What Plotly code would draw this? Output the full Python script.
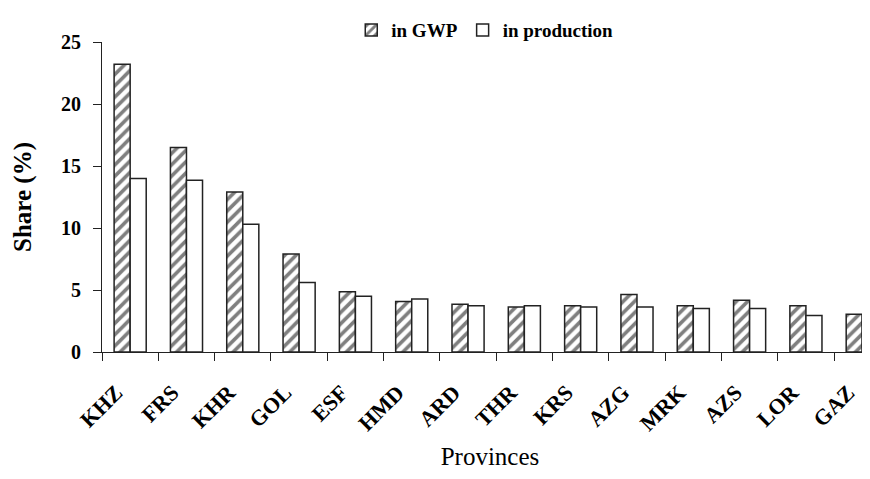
import plotly.graph_objects as go

provinces = ["KHZ", "FRS", "KHR", "GOL", "ESF", "HMD", "ARD", "THR", "KRS", "AZG", "MRK", "AZS", "LOR", "GAZ"]
share_gwp = [23.2, 16.5, 12.9, 7.9, 4.85, 4.07, 3.86, 3.62, 3.72, 4.63, 3.72, 4.18, 3.72, 3.05]
share_production = [14.0, 13.85, 10.3, 5.6, 4.5, 4.28, 3.72, 3.72, 3.62, 3.62, 3.5, 3.5, 2.95, 2.95]

FONT = "Liberation Serif"

fig = go.Figure()
fig.add_trace(go.Bar(
    x=provinces, y=share_gwp, name="in GWP",
    marker=dict(color="white",
                pattern=dict(shape="/", fgcolor="black", bgcolor="white", size=8, solidity=0.45),
                line=dict(color="#222", width=1.5)),
))
fig.add_trace(go.Bar(
    x=provinces, y=share_production, name="in production",
    marker=dict(color="white", line=dict(color="#222", width=1.5)),
))

fig.update_layout(
    width=870, height=479,
    margin=dict(l=94, r=0, t=34, b=135, autoexpand=False),
    paper_bgcolor="white", plot_bgcolor="white",
    barmode="group", bargap=0.43, bargroupgap=0,
    font=dict(family=FONT, color="black", size=18, weight="bold"),
    showlegend=True,
    legend=dict(orientation="h", xref="container", yref="container",
                x=0.548, xanchor="center", y=0.954, yanchor="middle",
                font=dict(family=FONT, size=19, weight="bold"),
                itemwidth=30, tracegroupgap=0, bgcolor="rgba(0,0,0,0)"),
    xaxis=dict(
        range=[-0.5, 13.28], tickangle=-45, tickson="boundaries",
        ticks="outside", ticklen=8, tickcolor="#222",
        showline=True, linecolor="#222", linewidth=1, showgrid=False,
        ticklabelshift=-14, ticklabelstandoff=18,
        tickfont=dict(family=FONT, size=22, weight="bold"),
        title=dict(text="Provinces", font=dict(family=FONT, size=25, weight="normal"), standoff=12),
    ),
    yaxis=dict(
        range=[0, 25], dtick=5, ticks="outside", ticklen=8, tickcolor="#222",
        showline=True, linecolor="#222", linewidth=1, showgrid=False, zeroline=False,
        ticklabelstandoff=8,
        tickfont=dict(family=FONT, size=20, weight="bold"),
        title=dict(text="Share (%)", font=dict(family=FONT, size=25, weight="bold"), standoff=22),
    ),
)

fig.write_html("out.html")
